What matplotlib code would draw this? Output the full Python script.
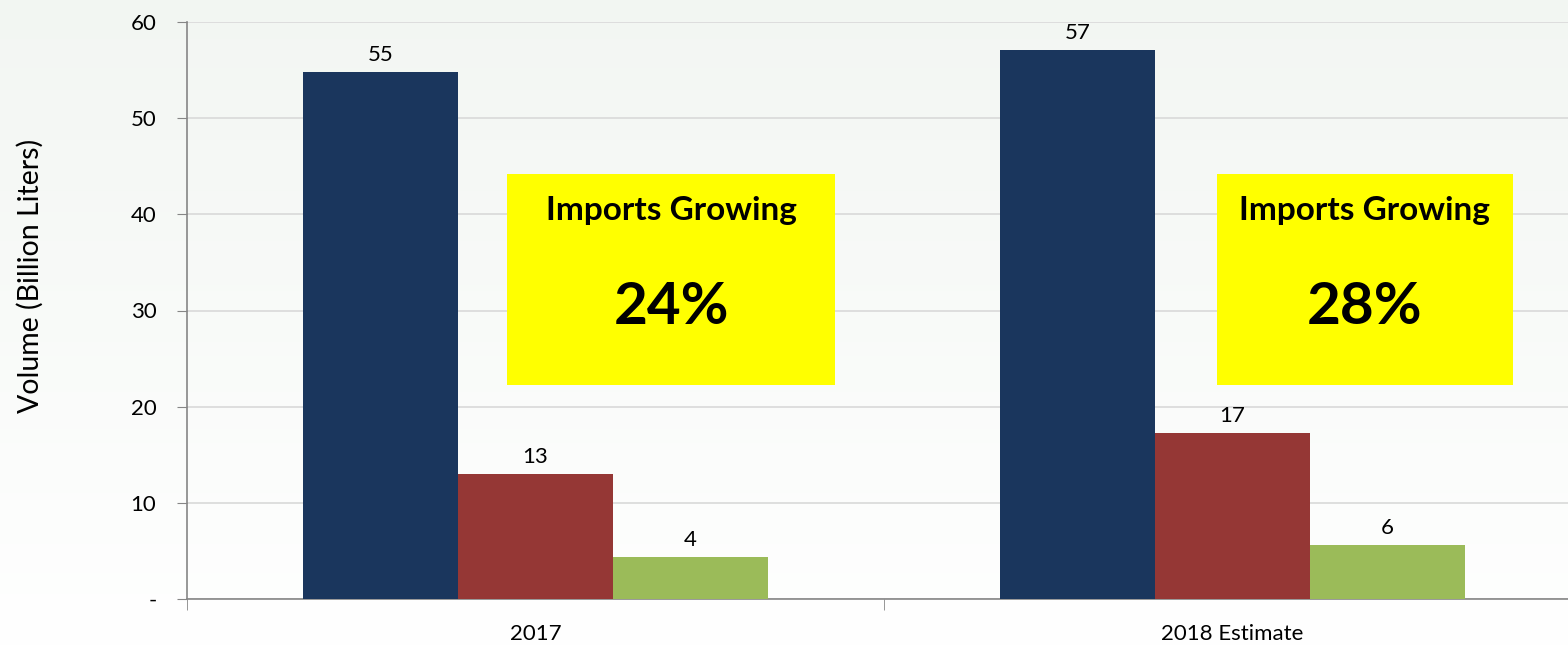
import numpy as np
import matplotlib
matplotlib.use("Agg")
import matplotlib.pyplot as plt
from matplotlib.patches import Rectangle

# Chart data
categories = ["2017", "2018 Estimate"]
series_a = [54.8, 57.1]   # blue
series_b = [13.0, 17.3]   # red
series_c = [4.4, 5.6]     # green
growth_labels = ["24%", "28%"]
yticks = [0, 10, 20, 30, 40, 50, 60]
ytick_labels = ["-", "10", "20", "30", "40", "50", "60"]

colors = ["#1a365d", "#953735", "#9bbb59"]
plt.rcParams['font.family'] = ['Lato', 'DejaVu Sans']

fig = plt.figure(figsize=(15.68, 6.46), dpi=100)

# soft background gradient
bg = fig.add_axes([0, 0, 1, 1], zorder=-10)
grad = np.linspace(0, 1, 256).reshape(-1, 1)
top = np.array([0.95, 0.965, 0.95])
bot = np.array([1.0, 1.0, 1.0])
img = top + (bot - top) * grad[..., None]
bg.imshow(img, aspect="auto", extent=[0, 1, 0, 1])
bg.axis("off")

ax = fig.add_axes([187 / 1568, 47 / 646, 1394 / 1568, 577 / 646])
ax.set_facecolor("none")

x = np.arange(len(categories))
w = 0.2225
for i, vals in enumerate([series_a, series_b, series_c]):
    bars = ax.bar(x + (i - 1) * w, vals, w, color=colors[i], zorder=3)
    ax.bar_label(bars, labels=[f"{v:.0f}" for v in vals], padding=5, fontsize=16)

ax.set_xlim(-0.5, 1.5)
ax.set_ylim(0, 60)
ax.set_yticks(yticks)
ax.set_yticklabels(ytick_labels, fontsize=16)
ax.yaxis.grid(True, color="#d9d9d9", linewidth=1.2, zorder=0)
ax.tick_params(axis="y", length=7, color="#868686", pad=15)

ax.set_xticks(x)
ax.set_xticklabels(categories, fontsize=16)
ax.tick_params(axis="x", length=0, pad=18)
ax.set_xticks([-0.5, 0.5, 1.5], minor=True)
ax.tick_params(axis="x", which="minor", length=8, color="#868686")

for s in ["top", "right"]:
    ax.spines[s].set_visible(False)
for s in ["left", "bottom"]:
    ax.spines[s].set_color("#868686")
    ax.spines[s].set_linewidth(1.2)

ax.set_ylabel("Volume (Billion Liters)", fontsize=20.5)
ax.yaxis.set_label_coords(-0.1025, 0.56)

# yellow call-out boxes
box_left = [-0.041, -0.022]
box_right = [0.43, 0.402]
for i in range(len(categories)):
    x0 = x[i] + box_left[i]
    x1 = x[i] + box_right[i]
    ax.add_patch(Rectangle((x0, 22.25), x1 - x0, 21.95, facecolor="#ffff00",
                           edgecolor="none", zorder=4))
    xc = (x0 + x1) / 2
    ax.text(xc, 40.4, "Imports Growing", ha="center", va="center",
            fontsize=24, fontweight="bold", zorder=5)
    ax.text(xc, 30.3, growth_labels[i], ha="center", va="center",
            fontsize=42, fontweight="bold", zorder=5)

fig.savefig("out.png", dpi=100)
